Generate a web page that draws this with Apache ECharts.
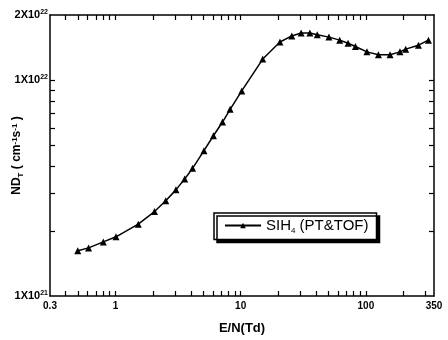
<!DOCTYPE html>
<html>
<head>
<meta charset="utf-8">
<script src="https://cdn.jsdelivr.net/npm/echarts@6/dist/echarts.min.js"></script>
<style>
  html, body { margin: 0; padding: 0; background: #fff; }
  #chart { width: 448px; height: 340px; }
</style>
</head>
<body>
<div id="chart"></div>
<script>
// E/N (Td) 和 ND_T (cm^-1 s^-1)
const en = [0.50, 0.61, 0.80, 1.01, 1.52, 2.05, 2.52, 3.04, 3.57, 4.13, 5.09, 6.06, 7.16, 8.24,
  10.2, 15.0, 20.6, 25.6, 30.4, 35.7, 40.9, 50.7, 61.8, 72.1, 82.5, 102, 126, 156, 187, 208, 263, 316];
const ndt = [1.62e21, 1.67e21, 1.78e21, 1.88e21, 2.15e21, 2.46e21, 2.76e21, 3.10e21, 3.48e21, 3.90e21,
  4.71e21, 5.52e21, 6.39e21, 7.32e21, 8.90e21, 1.25e22, 1.50e22, 1.60e22, 1.65e22, 1.65e22, 1.62e22,
  1.58e22, 1.53e22, 1.48e22, 1.43e22, 1.35e22, 1.31e22, 1.31e22, 1.35e22, 1.39e22, 1.45e22, 1.53e22];

// 刻度位置（主刻度 + 次刻度）
const xTicks = [0.4, 0.5, 0.6, 0.7, 0.8, 0.9, 1, 2, 3, 4, 5, 6, 7, 8, 9, 10,
  20, 30, 40, 50, 60, 70, 80, 90, 100, 200, 300];
const yTicks = [2e21, 3e21, 4e21, 5e21, 6e21, 7e21, 8e21, 9e21, 1e22];

const font = '"Liberation Sans", Arial, sans-serif';
const black = '#000';

const chart = echarts.init(document.getElementById('chart'));

// 每个轴都用新的对象，避免共享
const axisLine = () => ({ show: true, lineStyle: { color: black, width: 1.5 } });
const tick = vals => ({ show: true, inside: true, length: 5, customValues: vals.slice(), lineStyle: { color: black, width: 1.2 } });

const option = {
  animation: false,
  grid: { left: 50, right: 14, top: 15, bottom: 44, outerBoundsMode: 'none' },
  legend: {
    left: 214,
    top: 213,
    padding: [5, 8, 5, 10],
    itemWidth: 36,
    itemHeight: 7,
    itemGap: 4,
    backgroundColor: '#fff',
    borderColor: black,
    borderWidth: 1.5,
    shadowColor: black,
    shadowBlur: 0,
    shadowOffsetX: 3,
    shadowOffsetY: 3,
    formatter: () => 'SIH{sub|4} (PT&TOF)',
    textStyle: {
      fontFamily: font, fontSize: 15, color: black,
      rich: { sub: { fontSize: 8, fontFamily: font, verticalAlign: 'top', padding: [10, 0, 0, 0] } }
    }
  },
  xAxis: [
    {
      type: 'log', logBase: 10, min: 0.3, max: 350,
      position: 'bottom',
      splitLine: { show: false },
      name: 'E/N(Td)',
      nameLocation: 'middle',
      nameGap: 26,
      nameMoveOverlap: false,
      nameTextStyle: { fontFamily: font, fontSize: 13, fontWeight: 'bold', color: black },
      axisLine: axisLine(),
      axisTick: tick(xTicks),
      axisLabel: {
        fontFamily: font, fontSize: 10, fontWeight: 'bold', color: black, margin: 5,
        formatter: v => String(+(+v).toPrecision(3))
      }
    },
    {
      type: 'log', logBase: 10, min: 0.3, max: 350,
      position: 'top',
      splitLine: { show: false },
      axisLine: axisLine(),
      axisTick: tick(xTicks),
      axisLabel: { show: false }
    }
  ],
  yAxis: [
    {
      type: 'log', logBase: 10, min: 1e21, max: 2e22,
      position: 'left',
      splitLine: { show: false },
      name: 'ND{sub|T} ( cm{sup|-1}s{sup|-1} )',
      nameLocation: 'middle',
      nameRotate: 90,
      nameGap: 25,
      nameMoveOverlap: false,
      nameTextStyle: {
        fontFamily: font, fontSize: 12, fontWeight: 'bold', color: black,
        rich: {
          sub: { fontSize: 8, fontFamily: font, verticalAlign: 'top', padding: [8, 0, 0, 0] },
          sup: { fontSize: 8, fontFamily: font, verticalAlign: 'bottom', padding: [0, 0, 6, 0] }
        }
      },
      axisLine: axisLine(),
      axisTick: tick(yTicks),
      axisLabel: {
        fontFamily: font, fontSize: 11, fontWeight: 'bold', color: black, margin: 2,
        formatter: v => {
          const e = Math.floor(Math.log10(v) + 1e-9);
          const m = Math.round(v / Math.pow(10, e));
          return m + 'X10{sup|' + e + '}';
        },
        rich: { sup: { fontSize: 7, fontWeight: 'bold', fontFamily: font, verticalAlign: 'bottom', padding: [0, 0, 6, 0] } }
      }
    },
    {
      type: 'log', logBase: 10, min: 1e21, max: 2e22,
      position: 'right',
      splitLine: { show: false },
      axisLine: axisLine(),
      axisTick: tick(yTicks),
      axisLabel: { show: false }
    }
  ],
  series: [
    {
      name: 'SIH4',
      type: 'line',
      xAxisIndex: 0,
      yAxisIndex: 0,
      data: en.map((x, i) => [x, ndt[i]]),
      symbol: 'triangle',
      symbolSize: 7,
      itemStyle: { color: black },
      lineStyle: { color: black, width: 1.5 }
    }
  ]
};

chart.setOption(option);
</script>
</body>
</html>
